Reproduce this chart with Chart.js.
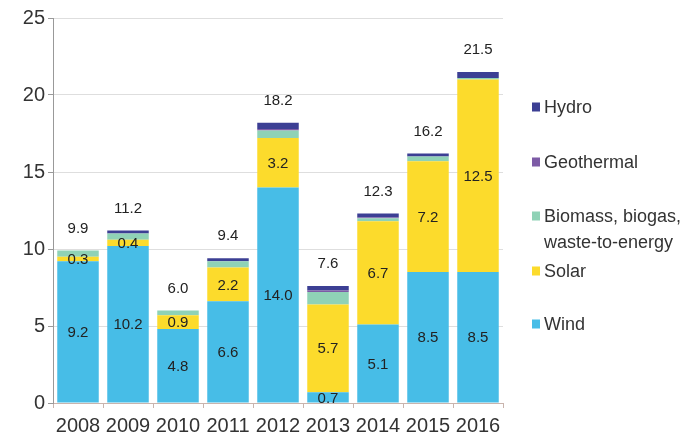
<!DOCTYPE html>
<html>
<head>
<meta charset="utf-8">
<script src="https://cdn.jsdelivr.net/npm/chart.js@4/dist/chart.umd.min.js"></script>
<style>
  html, body { margin: 0; padding: 0; background: #fff; }
  #wrap { width: 688px; height: 437px; position: relative; }
</style>
</head>
<body>
<div id="wrap"><canvas id="c"></canvas></div>
<script>
// New renewable capacity additions by source, per year
const years = ['2008', '2009', '2010', '2011', '2012', '2013', '2014', '2015', '2016'];
const wind = [9.2, 10.2, 4.8, 6.6, 14.0, 0.7, 5.1, 8.5, 8.5];
const solar = [0.3, 0.4, 0.9, 2.2, 3.2, 5.7, 6.7, 7.2, 12.5];
const biomass = [0.4, 0.4, 0.3, 0.4, 0.5, 0.8, 0.2, 0.3, 0.1];
const geothermal = [0, 0, 0, 0, 0.1, 0.1, 0.05, 0, 0];
const hydro = [0, 0.2, 0, 0.2, 0.4, 0.3, 0.25, 0.2, 0.4];
const yTicks = [0, 5, 10, 15, 20, 25];

const FONT = 'Arial, "Liberation Sans", Helvetica, sans-serif';
const COLORS = {
  wind: '#47bde7',
  solar: '#fcdb2c',
  biomass: '#8fd2b6',
  geothermal: '#7d5ba6',
  hydro: '#3c3f94'
};

const totals = years.map((_, i) => wind[i] + solar[i] + biomass[i] + geothermal[i] + hydro[i]);

// Values printed inside the wind and solar segments, and the totals above each bar
const labelPlugin = {
  id: 'barLabels',
  afterDatasetsDraw(chart) {
    const ctx = chart.ctx;
    ctx.save();
    ctx.font = '15px ' + FONT;
    ctx.fillStyle = '#222';
    ctx.textAlign = 'center';
    ctx.textBaseline = 'middle';
    [0, 1].forEach(di => {
      const meta = chart.getDatasetMeta(di);
      const vals = chart.data.datasets[di].data;
      meta.data.forEach((bar, i) => {
        const y = (bar.y + bar.base) / 2;
        ctx.fillText(vals[i].toFixed(1), bar.x, y + 1);
      });
    });
    const yScale = chart.scales.y;
    const meta0 = chart.getDatasetMeta(0);
    meta0.data.forEach((bar, i) => {
      const yTop = yScale.getPixelForValue(totals[i]);
      ctx.fillText(totals[i].toFixed(1), bar.x, yTop - 22);
    });
    ctx.restore();
  }
};

// Legend on the right, listed from the top of the stack down
const legendPlugin = {
  id: 'sideLegend',
  afterDraw(chart) {
    const ctx = chart.ctx;
    const items = [
      { text: 'Hydro', color: COLORS.hydro, y: 107 },
      { text: 'Geothermal', color: COLORS.geothermal, y: 162 },
      { text: 'Biomass, biogas,', color: COLORS.biomass, y: 216 },
      { text: 'Solar', color: COLORS.solar, y: 271 },
      { text: 'Wind', color: COLORS.wind, y: 324 }
    ];
    ctx.save();
    ctx.font = '18px ' + FONT;
    ctx.textAlign = 'left';
    ctx.textBaseline = 'middle';
    items.forEach(it => {
      ctx.fillStyle = it.color;
      ctx.fillRect(532, it.y - 4.5, 8, 9);
      ctx.fillStyle = '#333';
      ctx.fillText(it.text, 544, it.y + 1);
    });
    ctx.fillText('waste-to-energy', 544, 243);
    ctx.restore();
  }
};

function draw() {
  new Chart(document.getElementById('c'), {
    type: 'bar',
    data: {
      labels: years,
      datasets: [
        { label: 'Wind', data: wind, backgroundColor: COLORS.wind },
        { label: 'Solar', data: solar, backgroundColor: COLORS.solar },
        { label: 'Biomass, biogas, waste-to-energy', data: biomass, backgroundColor: COLORS.biomass },
        { label: 'Geothermal', data: geothermal, backgroundColor: COLORS.geothermal },
        { label: 'Hydro', data: hydro, backgroundColor: COLORS.hydro }
      ]
    },
    options: {
      responsive: true,
      maintainAspectRatio: false,
      devicePixelRatio: 1,
      animation: false,
      layout: { padding: { top: 18, right: 185, left: 0, bottom: 0 } },
      datasets: { bar: { categoryPercentage: 1, barPercentage: 0.83, borderWidth: 0 } },
      plugins: {
        legend: { display: false },
        tooltip: { enabled: false }
      },
      scales: {
        x: {
          stacked: true,
          offset: true,
          grid: {
            offset: true,
            drawOnChartArea: false,
            drawTicks: true,
            tickLength: 5,
            color: '#c9b4ad'
          },
          border: { display: true, color: '#c9b4ad' },
          ticks: {
            color: '#333',
            font: { family: FONT, size: 20 },
            padding: 6,
            minRotation: 0,
            maxRotation: 0,
            autoSkip: false
          },
          afterFit(scale) { scale.height = 34; }
        },
        y: {
          stacked: true,
          min: 0,
          max: 25,
          afterBuildTicks(scale) { scale.ticks = yTicks.map(v => ({ value: v })); },
          grid: {
            color: '#dedede',
            tickLength: 5,
            tickColor: '#999'
          },
          border: { display: true, color: '#999' },
          ticks: { color: '#333', font: { family: FONT, size: 20 }, padding: 3 },
          afterFit(scale) { scale.width = 53; }
        }
      }
    },
    plugins: [labelPlugin, legendPlugin]
  });
}

if (document.fonts && document.fonts.load) {
  Promise.all([
    document.fonts.load('18px Arial'),
    document.fonts.load('18px "Liberation Sans"')
  ]).then(draw, draw);
} else {
  draw();
}
</script>
</body>
</html>
